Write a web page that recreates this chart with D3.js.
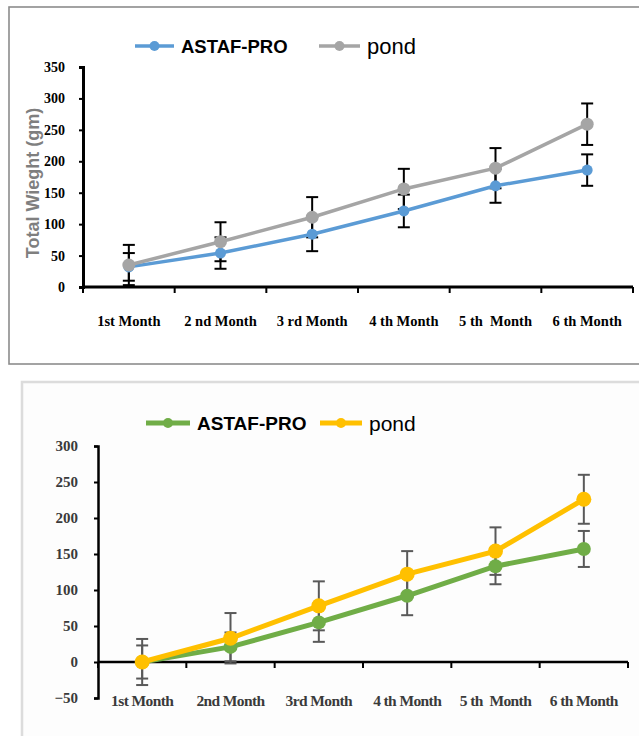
<!DOCTYPE html>
<html>
<head>
<meta charset="utf-8">
<script src="https://cdn.jsdelivr.net/npm/d3@7"></script>
<style>
  body { margin: 0; background: #fff; }
  svg { display: block; }
</style>
</head>
<body>
<svg id="chart" width="639" height="736"></svg>
<script>
// top chart
const months1 = ["1st Month", "2 nd Month", "3 rd Month", "4 th Month", "5 th  Month", "6 th Month"];
const astaf1 = [32, 54, 84, 121, 161, 186];
const astafErr1 = [22, 25, 27, 26, 27, 25];
const pond1 = [35, 72, 111, 156, 189, 259];
const pondErr1 = [32, 31, 32, 32, 32, 33];
const yTicks1 = [0, 50, 100, 150, 200, 250, 300, 350];

// bottom chart
const months2 = ["1st Month", "2nd Month", "3rd Month", "4 th Month", "5 th  Month", "6 th Month"];
const astaf2 = [0, 21, 55, 92, 133, 157];
const astafErr2 = [23, 20, 27, 27, 25, 25];
const pond2 = [0, 33, 78, 122, 154, 226];
const pondErr2 = [32, 35, 34, 32, 33, 34];
const yTicks2 = [-50, 0, 50, 100, 150, 200, 250, 300];

const seriesNames = ["ASTAF-PRO", "pond"];

const svg = d3.select("#chart");

// frames
svg.append("rect")
    .attr("x", 9).attr("y", 7).attr("width", 700).attr("height", 357)
    .style("fill", "none").style("stroke", "#8c8c8c").style("stroke-width", 1.6);
svg.append("rect")
    .attr("x", 22).attr("y", 382).attr("width", 700).attr("height", 400)
    .style("fill", "#fdfdfd").style("stroke", "#dcdcdc").style("stroke-width", 2.5);

let drawPanel = (cfg) => {
    const g = svg.append("g");
    const x = d3.scaleBand().domain(cfg.months).range(cfg.xRange);
    const y = d3.scaleLinear().domain(cfg.yDomain).range(cfg.yRange);
    const cx = d => x(d) + x.bandwidth() / 2;

    // y axis
    const yAxis = g.append("g")
        .attr("transform", `translate(${cfg.xRange[0]},0)`)
        .call(d3.axisLeft(y).tickValues(cfg.yTicks).tickSize(4).tickSizeOuter(4).tickPadding(cfg.yPad));
    yAxis.select(".domain").style("stroke", "#000").style("stroke-width", cfg.axisW);
    yAxis.selectAll(".tick line").style("stroke", "#000").style("stroke-width", 2);
    yAxis.selectAll(".tick text")
        .style("font-family", "Liberation Serif, Times New Roman, serif")
        .style("font-weight", "bold")
        .style("font-size", cfg.tickFont + "px")
        .style("fill", cfg.tickColor);

    // x axis at zero with boundary ticks
    const y0 = y(0);
    g.append("line")
        .attr("x1", cfg.xRange[0]).attr("x2", cfg.xRange[1])
        .attr("y1", y0).attr("y2", y0)
        .style("stroke", "#000").style("stroke-width", cfg.axisW);
    const bounds = cfg.months.map(d => x(d)).concat([cfg.xRange[1]]);
    g.selectAll(".xtick").data(bounds).enter().append("line")
        .attr("x1", d => d).attr("x2", d => d)
        .attr("y1", y0).attr("y2", y0 + 6)
        .style("stroke", "#000").style("stroke-width", 2);
    g.selectAll(".xlabel").data(cfg.months).enter().append("text")
        .attr("x", d => cx(d))
        .attr("y", cfg.labelY)
        .attr("text-anchor", "middle")
        .style("white-space", "pre")
        .style("font-family", "Liberation Serif, Times New Roman, serif")
        .style("font-weight", "bold")
        .style("font-size", cfg.labelFont + "px")
        .style("letter-spacing", cfg.labelSpacing + "px")
        .style("fill", cfg.tickColor)
        .text(d => d);

    // error bars first, then lines and markers on top
    cfg.series.forEach(s => {
        const eb = g.append("g");
        cfg.months.forEach((m, i) => {
            const hi = y(s.values[i] + s.err[i]), lo = y(s.values[i] - s.err[i]);
            eb.append("line").attr("x1", cx(m)).attr("x2", cx(m)).attr("y1", hi).attr("y2", lo);
            eb.append("line").attr("x1", cx(m) - 6).attr("x2", cx(m) + 6).attr("y1", hi).attr("y2", hi);
            eb.append("line").attr("x1", cx(m) - 6).attr("x2", cx(m) + 6).attr("y1", lo).attr("y2", lo);
        });
        eb.selectAll("line").style("stroke", cfg.errColor).style("stroke-width", 2);
    });
    cfg.series.forEach(s => {
        const pts = cfg.months.map((m, i) => ({ m: m, v: s.values[i] }));
        g.append("path")
            .datum(pts)
            .attr("d", d3.line().x(d => cx(d.m)).y(d => y(d.v)))
            .style("fill", "none")
            .style("stroke", s.color)
            .style("stroke-width", cfg.lineW);
        g.selectAll(null).data(pts).enter().append("circle")
            .attr("cx", d => cx(d.m))
            .attr("cy", d => y(d.v))
            .attr("r", s.r)
            .style("fill", s.color);
    });

    // legend
    cfg.series.forEach(s => {
        const lg = g.append("g").attr("transform", `translate(0,${cfg.legendY})`);
        lg.append("line").attr("x1", s.lx[0]).attr("x2", s.lx[1]).attr("y1", 0).attr("y2", 0)
            .style("stroke", s.color).style("stroke-width", cfg.lineW);
        lg.append("circle").attr("cx", (s.lx[0] + s.lx[1]) / 2).attr("cy", 0).attr("r", cfg.legendR)
            .style("fill", s.color);
        lg.append("text")
            .attr("x", s.lx[1] + 7)
            .attr("y", 0)
            .attr("dy", "0.36em")
            .style("font-family", "Liberation Sans, Arial, sans-serif")
            .style("font-weight", s.bold ? "bold" : "normal")
            .style("font-size", s.font + "px")
            .style("fill", "#000")
            .text(s.name);
    });
    return g;
};

drawPanel({
    months: months1,
    xRange: [83, 633], yDomain: [0, 350], yRange: [287, 67], yTicks: yTicks1,
    axisW: 3, yPad: 14, tickFont: 14, labelFont: 14.5, labelSpacing: 0, tickColor: "#000", labelY: 326,
    errColor: "#000", lineW: 3.5, legendY: 46, legendR: 5,
    series: [
        { name: seriesNames[0], values: astaf1, err: astafErr1, color: "#5b9bd5", r: 5.5, lx: [135, 174], bold: true, font: 18.5 },
        { name: seriesNames[1], values: pond1, err: pondErr1, color: "#a5a5a5", r: 6.5, lx: [319, 360], bold: false, font: 22 }
    ]
});

// y axis title of the top chart
svg.append("text")
    .attr("transform", "translate(39,183) rotate(-90)")
    .attr("text-anchor", "middle")
    .style("font-family", "Liberation Sans, Arial, sans-serif")
    .style("font-weight", "bold")
    .style("font-size", "18px")
    .style("fill", "#7f7f7f")
    .text("Total Wieght (gm)");

drawPanel({
    months: months2,
    xRange: [98, 628], yDomain: [-50, 300], yRange: [698, 446], yTicks: yTicks2,
    axisW: 2.5, yPad: 16, tickFont: 15, labelFont: 15.5, labelSpacing: -0.6, tickColor: "#3a3a3a", labelY: 706,
    errColor: "#595959", lineW: 5, legendY: 423, legendR: 5,
    series: [
        { name: seriesNames[0], values: astaf2, err: astafErr2, color: "#70ad47", r: 7, lx: [146, 190], bold: true, font: 19 },
        { name: seriesNames[1], values: pond2, err: pondErr2, color: "#ffc000", r: 7.5, lx: [320, 362], bold: false, font: 21 }
    ]
});
</script>
</body>
</html>
